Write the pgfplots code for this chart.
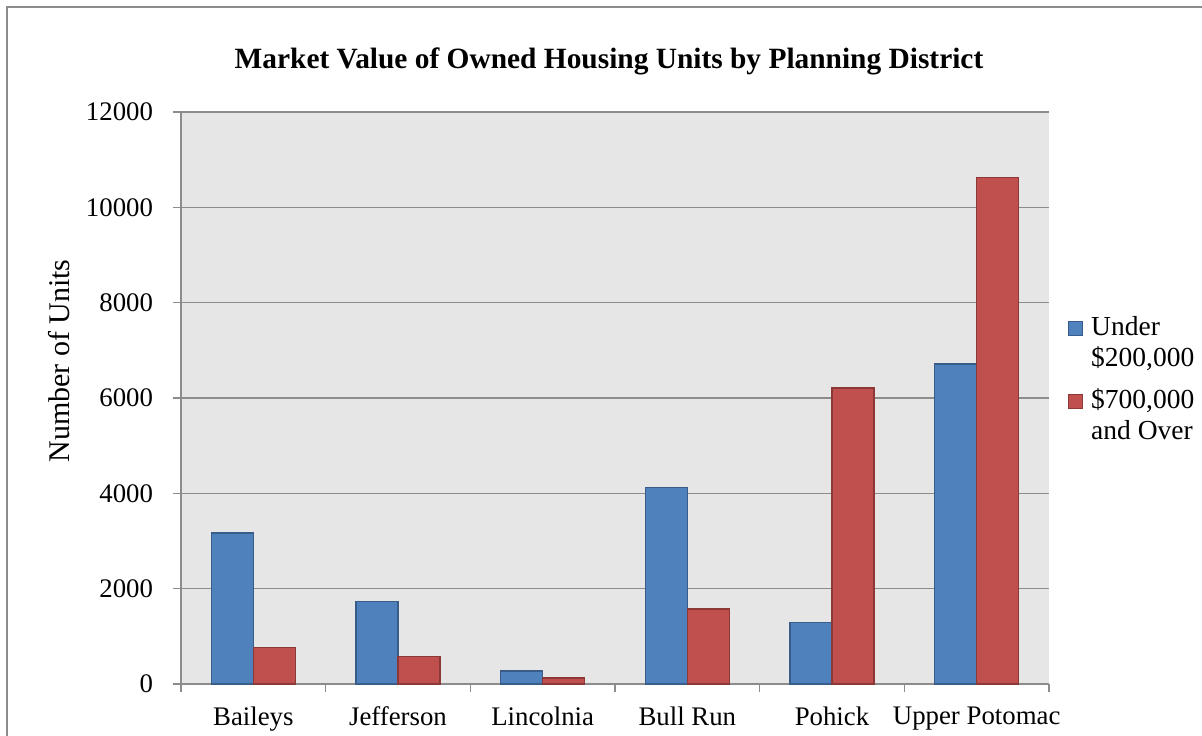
\documentclass[border=0pt]{standalone}
\usepackage{fontspec}
\setmainfont{Liberation Serif}
\usepackage{pgfplots}
\pgfplotsset{compat=1.18}
\definecolor{barblue}{HTML}{4F81BD}
\definecolor{barblueedge}{HTML}{385D8A}
\definecolor{barred}{HTML}{C0504D}
\definecolor{barrededge}{HTML}{8C3836}
\definecolor{plotbg}{HTML}{E6E6E6}
\definecolor{gridgray}{HTML}{8C8C8C}
\pgfplotsset{sqlegend/.style={legend image code/.code={%
  \draw[##1, line width=1pt] (0pt,0.5pt) rectangle (14pt,14.5pt);}}}
\newcommand\twolines[2]{\begin{tabular}[t]{@{}l@{}}#1\\#2\end{tabular}}
\begin{document}
\begin{tikzpicture}
\useasboundingbox (0,0) rectangle (1202pt,736pt);
\draw[gridgray, line width=2.5pt] (7pt,-5pt) -- (7pt,729pt) -- (1210pt,729pt);
\begin{axis}[
  at={(181pt,52pt)}, anchor=south west,
  scale only axis, width=868pt, height=572pt,
  ybar=0pt, bar width=0.29,
  xmin=-0.5, xmax=5.5, ymin=0, ymax=12000,
  axis lines*=left,
  axis line style={gridgray, line width=1.5pt},
  axis background/.style={fill=plotbg},
  ymajorgrids, grid style={gridgray, line width=1.5pt},
  tick align=outside, major tick length=8pt,
  tick style={gridgray, line width=1.5pt},
  xtick={-0.5,0.5,1.5,2.5,3.5,4.5,5.5},
  xticklabels={Baileys,Jefferson,Lincolnia,Bull Run,Pohick,Upper Potomac,{}},
  xticklabel style={xshift=72.33pt, yshift=-11pt, font=\fontsize{26.8}{30}\selectfont},
  ytick={0,2000,4000,6000,8000,10000,12000},
  scaled y ticks=false,
  /pgf/number format/1000 sep={},
  /pgf/number format/assume math mode=true,
  yticklabel style={font=\fontsize{26.8}{30}\selectfont, xshift=-16.5pt},
  title={\textbf{Market Value of Owned Housing Units by Planning District}},
  title style={at={(axis description cs:0.4931,1.065)}, anchor=base, font=\fontsize{29.4}{32}\selectfont},
  ylabel={Number of Units},
  ylabel style={at={(axis description cs:-0.1279,0.5647)}, anchor=base, font=\fontsize{30}{32}\selectfont},
  legend style={at={(axis description cs:1.0219,0.6474)}, anchor=north west, draw=none, fill=none,
    font=\fontsize{27.5}{31}\selectfont, row sep=11.3pt, column sep=8pt, inner sep=0pt,
    nodes={inner sep=0pt, text height=, text depth=}, cells={anchor=base west}},
]
\addplot[fill=barblue, draw=barblueedge, line width=1.5pt, sqlegend]
  coordinates {(0,3164) (1,1729) (2,270) (3,4118) (4,1291) (5,6717)};
\addlegendentry{\twolines{Under}{\$200,000}}
\addplot[fill=barred, draw=barrededge, line width=1.5pt, sqlegend]
  coordinates {(0,762) (1,572) (2,130) (3,1575) (4,6205) (5,10622)};
\addlegendentry{\twolines{\$700,000}{and Over}}
\end{axis}
\end{tikzpicture}
\end{document}
